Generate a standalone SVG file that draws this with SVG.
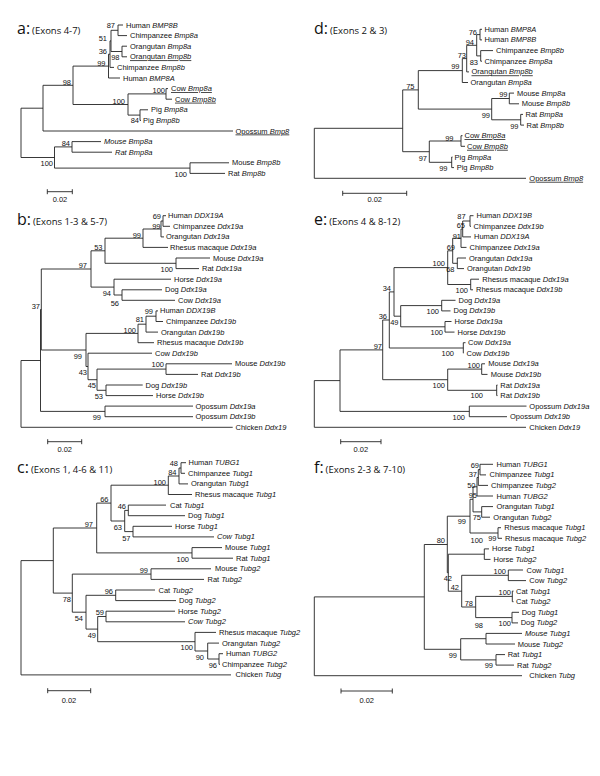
<svg xmlns="http://www.w3.org/2000/svg" width="600" height="776" viewBox="0 0 600 776">
<style>
.br{fill:none;stroke:#222;stroke-width:0.9}
.lf{font-family:"Liberation Sans",Arial,sans-serif;font-size:7.5px;fill:#111}
.lf .i,.i{font-style:italic}
.u{text-decoration:underline}
.bs{font-family:"Liberation Sans",Arial,sans-serif;font-size:7.5px;fill:#111;text-anchor:end}
.sc{font-family:"Liberation Sans",Arial,sans-serif;font-size:7.5px;fill:#111;text-anchor:middle}
.tl{font-family:"Open Sans","Liberation Sans",sans-serif;fill:#111}
.tl .big{font-size:16px}
.tl .sm{font-size:9.5px}
</style>
<rect width="600" height="776" fill="#fff"/>

<!-- ================= PANEL A ================= -->
<g id="panel-a">
<text class="tl" x="17" y="34"><tspan class="big">a:</tspan><tspan class="sm" dx="2">(Exons 4-7)</tspan></text>
<g id="a-connectors"><path class="br" d="M118,25V35.6M118,25H123M118,35.6H127M122,46.2V56.8M122,46.2H127M122,56.8H127M111,30.3V51.5M111,30.3H118M111,51.5H122M110,40.9V67.4M110,40.9H111M110,67.4H114M108.5,54.2V78M108.5,54.2H110M108.5,78H120M166,88.6V99.2M166,88.6H168M166,99.2H172M140,109.8V120.4M140,109.8H148M140,120.4H141M128,93.9V115.1M128,93.9H166M128,115.1H140M73,66.1V104.5M73,66.1H108.5M73,104.5H128M43,85.3V131M43,85.3H73M43,131H233M72,141.6V152.2M72,141.6H101M72,152.2H112M190,162.8V173.4M190,162.8H229M190,173.4H225M54.5,146.9V168.1M54.5,146.9H72M54.5,168.1H190M21,108.2V157.5M21,108.2H43M21,157.5H54.5"/></g>
<g class="lf">
<g id="a-l0"><text x="126" y="27.5">Human <tspan class="i">BMP8B</tspan></text></g>
<g id="a-l1"><text x="130" y="38.1">Chimpanzee <tspan class="i">Bmp8a</tspan></text></g>
<g id="a-l2"><text x="130" y="48.7">Orangutan <tspan class="i">Bmp8a</tspan></text></g>
<g id="a-l3"><text class="u" x="130" y="59.3">Orangutan <tspan class="i">Bmp8b</tspan></text></g>
<g id="a-l4"><text x="117" y="69.9">Chimpanzee <tspan class="i">Bmp8b</tspan></text></g>
<g id="a-l5"><text x="123" y="80.5">Human <tspan class="i">BMP8A</tspan></text></g>
<g id="a-l6"><text class="u" x="171" y="91.1">Cow <tspan class="i">Bmp8a</tspan></text></g>
<g id="a-l7"><text class="u" x="175" y="101.7">Cow <tspan class="i">Bmp8b</tspan></text></g>
<g id="a-l8"><text x="151" y="112.3">Pig <tspan class="i">Bmp8a</tspan></text></g>
<g id="a-l9"><text x="143" y="122.9">Pig <tspan class="i">Bmp8b</tspan></text></g>
<g id="a-l10"><text class="u" x="235.5" y="133.5">Opossum <tspan class="i">Bmp8</tspan></text></g>
<g id="a-l11"><text class="i" x="104" y="144.1">Mouse Bmp8a</text></g>
<g id="a-l12"><text class="i" x="115" y="154.7">Rat Bmp8a</text></g>
<g id="a-l13"><text x="232" y="165.3">Mouse <tspan class="i">Bmp8b</tspan></text></g>
<g id="a-l14"><text x="228" y="175.9">Rat <tspan class="i">Bmp8b</tspan></text></g>
</g>
<g class="bs">
<text x="115" y="27.8">87</text>
<text x="107" y="40.5">51</text>
<text x="107" y="53.5">36</text>
<text x="119.5" y="60">98</text>
<text x="105.5" y="65.5">99</text>
<text x="71" y="85">98</text>
<text x="165" y="93">100</text>
<text x="125" y="103.5">100</text>
<text x="139" y="123">84</text>
<text x="70" y="145.5">84</text>
<text x="53" y="165.5">100</text>
<text x="187" y="177">100</text>
</g>
<g id="a-scale"><path class="br" d="M47.3,191.7H72.3M47.3,189.2V194.2M72.3,189.2V194.2"/><text class="sc" x="60" y="202">0.02</text></g>
</g>

<!-- ================= PANEL B ================= -->
<g id="panel-b">
<text class="tl" x="17" y="224.5"><tspan class="big">b:</tspan><tspan class="sm" dx="2">(Exons 1-3 &amp; 5-7)</tspan></text>
<g id="b-connectors"><path class="br" d="M163,215.7V226.3M163,215.7H166M163,226.3H170M161,221V236.9M161,221H163M161,236.9H164M143,229V247.4M143,229H161M143,247.4H168M176,258V268.6M176,258H210M176,268.6H199M105,238.2V263.3M105,238.2H143M105,263.3H176M122,289.8V300.3M122,289.8H162M122,300.3H175M114,279.2V295M114,279.2H171M114,295H122M91,250.8V287.1M91,250.8H105M91,287.1H114M156,310.9V321.5M156,310.9H158M156,321.5H163M146,316.2V332.1M146,316.2H156M146,332.1H158M138,324.2V342.7M138,324.2H146M138,342.7H154M166,363.8V374.4M166,363.8H232M166,374.4H198M106,385V395.6M106,385H142.7M106,395.6H153M97,369.1V390.3M97,369.1H166M97,390.3H106M88,353.2V379.7M88,353.2H152M88,379.7H97M86,333.4V366.5M86,333.4H138M86,366.5H88M41.3,269V350M41.3,269H91M41.3,350H86M105,406.1V416.7M105,406.1H193M105,416.7H193M40.5,309.5V411.4M40.5,309.5H41.3M40.5,411.4H105M21,360.5V427.3M21,360.5H40.5M21,427.3H232.7"/></g>
<g class="lf">
<g id="b-l0"><text x="168" y="218.2">Human <tspan class="i">DDX19A</tspan></text></g>
<g id="b-l1"><text x="173" y="228.8">Chimpanzee <tspan class="i">Ddx19a</tspan></text></g>
<g id="b-l2"><text x="166" y="239.4">Orangutan <tspan class="i">Ddx19a</tspan></text></g>
<g id="b-l3"><text x="170" y="249.9">Rhesus macaque <tspan class="i">Ddx19a</tspan></text></g>
<g id="b-l4"><text x="213" y="260.5">Mouse <tspan class="i">Ddx19a</tspan></text></g>
<g id="b-l5"><text x="202" y="271.1">Rat <tspan class="i">Ddx19a</tspan></text></g>
<g id="b-l6"><text x="174" y="281.7">Horse <tspan class="i">Ddx19a</tspan></text></g>
<g id="b-l7"><text x="165" y="292.3">Dog <tspan class="i">Ddx19a</tspan></text></g>
<g id="b-l8"><text x="178" y="302.8">Cow <tspan class="i">Ddx19a</tspan></text></g>
<g id="b-l9"><text x="160" y="313.4">Human <tspan class="i">DDX19B</tspan></text></g>
<g id="b-l10"><text x="166" y="324">Chimpanzee <tspan class="i">Ddx19b</tspan></text></g>
<g id="b-l11"><text x="161" y="334.6">Orangutan <tspan class="i">Ddx19b</tspan></text></g>
<g id="b-l12"><text x="157" y="345.2">Rhesus macaque <tspan class="i">Ddx19b</tspan></text></g>
<g id="b-l13"><text x="155" y="355.7">Cow <tspan class="i">Ddx19b</tspan></text></g>
<g id="b-l14"><text x="235" y="366.3">Mouse <tspan class="i">Ddx19b</tspan></text></g>
<g id="b-l15"><text x="201" y="376.9">Rat <tspan class="i">Ddx19b</tspan></text></g>
<g id="b-l16"><text x="145.5" y="387.5">Dog <tspan class="i">Ddx19b</tspan></text></g>
<g id="b-l17"><text x="156" y="398.1">Horse <tspan class="i">Ddx19b</tspan></text></g>
<g id="b-l18"><text x="195.5" y="408.6">Opossum <tspan class="i">Ddx19a</tspan></text></g>
<g id="b-l19"><text x="195.5" y="419.2">Opossum <tspan class="i">Ddx19b</tspan></text></g>
<g id="b-l20"><text x="235.5" y="429.8">Chicken <tspan class="i">Ddx19</tspan></text></g>
</g>
<g class="bs">
<text x="161" y="218.5">69</text>
<text x="160.5" y="229">99</text>
<text x="141" y="237.5">99</text>
<text x="102.5" y="250">53</text>
<text x="173" y="272">100</text>
<text x="87" y="268">97</text>
<text x="111" y="296">94</text>
<text x="119" y="306">56</text>
<text x="40" y="309">37</text>
<text x="153" y="314">99</text>
<text x="144" y="322">81</text>
<text x="136" y="333">100</text>
<text x="164" y="367">100</text>
<text x="82" y="359">99</text>
<text x="87" y="374.5">43</text>
<text x="96" y="388">45</text>
<text x="103" y="399">53</text>
<text x="101" y="419.5">99</text>
</g>
<g id="b-scale"><path class="br" d="M47.7,441.7H81.7M47.7,439.2V444.2M81.7,439.2V444.2"/><text class="sc" x="64.7" y="452">0.02</text></g>
</g>

<!-- ================= PANEL C ================= -->
<g id="panel-c">
<text class="tl" x="17" y="472.5"><tspan class="big">c:</tspan><tspan class="sm" dx="2">(Exons 1, 4-6 &amp; 11)</tspan></text>
<g id="c-connectors"><path class="br" d="M181,462.7V473.3M181,462.7H186M181,473.3H185M179,468V483.9M179,468H181M179,483.9H188M168.3,476V494.5M168.3,476H179M168.3,494.5H192M128.3,505.1V515.7M128.3,505.1H166M128.3,515.7H185M133,526.3V536.9M133,526.3H172M133,536.9H214M124.7,510.4V531.6M124.7,510.4H128.3M124.7,531.6H133M111,485.2V521M111,485.2H168.3M111,521H124.7M192,547.6V558.2M192,547.6H222M192,558.2H233M96.7,503.1V552.9M96.7,503.1H111M96.7,552.9H192M151,568.8V579.4M151,568.8H211M151,579.4H204M115.7,590V600.6M115.7,590H155M115.7,600.6H176M106,611.2V621.8M106,611.2H175M106,621.8H185M219,653.7V664.3M219,653.7H223M219,664.3H220M207.7,643.1V659M207.7,643.1H219M207.7,659H219M195,632.4V651M195,632.4H216M195,651H207.7M97.7,616.5V641.7M97.7,616.5H106M97.7,641.7H195M86,595.3V629.1M86,595.3H115.7M86,629.1H97.7M72.3,574.1V612.2M72.3,574.1H151M72.3,612.2H86M53.3,528V593.1M53.3,528H96.7M53.3,593.1H72.3M21,560.6V674.9M21,560.6H53.3M21,674.9H231"/></g>
<g class="lf">
<g id="c-l0"><text x="188.5" y="465.2">Human <tspan class="i">TUBG1</tspan></text></g>
<g id="c-l1"><text x="188" y="475.8">Chimpanzee <tspan class="i">Tubg1</tspan></text></g>
<g id="c-l2"><text x="191" y="486.4">Orangutan <tspan class="i">Tubg1</tspan></text></g>
<g id="c-l3"><text x="195" y="497">Rhesus macaque <tspan class="i">Tubg1</tspan></text></g>
<g id="c-l4"><text x="170" y="507.6">Cat <tspan class="i">Tubg1</tspan></text></g>
<g id="c-l5"><text x="188" y="518.2">Dog <tspan class="i">Tubg1</tspan></text></g>
<g id="c-l6"><text x="175" y="528.8">Horse <tspan class="i">Tubg1</tspan></text></g>
<g id="c-l7"><text class="i" x="217" y="539.4">Cow Tubg1</text></g>
<g id="c-l8"><text x="225" y="550.1">Mouse <tspan class="i">Tubg1</tspan></text></g>
<g id="c-l9"><text x="236" y="560.7">Rat <tspan class="i">Tubg1</tspan></text></g>
<g id="c-l10"><text x="215" y="571.3">Mouse <tspan class="i">Tubg2</tspan></text></g>
<g id="c-l11"><text x="207.5" y="581.9">Rat <tspan class="i">Tubg2</tspan></text></g>
<g id="c-l12"><text x="158.5" y="592.5">Cat <tspan class="i">Tubg2</tspan></text></g>
<g id="c-l13"><text x="179" y="603.1">Dog <tspan class="i">Tubg2</tspan></text></g>
<g id="c-l14"><text x="178" y="613.7">Horse <tspan class="i">Tubg2</tspan></text></g>
<g id="c-l15"><text class="i" x="188" y="624.3">Cow Tubg2</text></g>
<g id="c-l16"><text x="219" y="634.9">Rhesus macaque <tspan class="i">Tubg2</tspan></text></g>
<g id="c-l17"><text x="222" y="645.6">Orangutan <tspan class="i">Tubg2</tspan></text></g>
<g id="c-l18"><text x="226" y="656.2">Human <tspan class="i">TUBG2</tspan></text></g>
<g id="c-l19"><text x="222" y="666.8">Chimpanzee <tspan class="i">Tubg2</tspan></text></g>
<g id="c-l20"><text x="235.5" y="677.4">Chicken <tspan class="i">Tubg</tspan></text></g>
</g>
<g class="bs">
<text x="178" y="465.5">48</text>
<text x="176.5" y="475">84</text>
<text x="166" y="484.5">100</text>
<text x="108.5" y="502">66</text>
<text x="126" y="509">46</text>
<text x="122" y="529.5">63</text>
<text x="130.5" y="541">57</text>
<text x="93" y="527">97</text>
<text x="189" y="562">100</text>
<text x="148" y="573">99</text>
<text x="71" y="602">78</text>
<text x="113" y="594">96</text>
<text x="83" y="621">54</text>
<text x="104" y="615">59</text>
<text x="96" y="638">49</text>
<text x="193" y="650">100</text>
<text x="204" y="659.5">90</text>
<text x="217" y="668">96</text>
</g>
<g id="c-scale"><path class="br" d="M47.7,690.7H90.7M47.7,688.2V693.2M90.7,688.2V693.2"/><text class="sc" x="69" y="703">0.02</text></g>
</g>

<!-- ================= PANEL D ================= -->
<g id="panel-d">
<text class="tl" x="314" y="34"><tspan class="big">d:</tspan><tspan class="sm" dx="2">(Exons 2 &amp; 3)</tspan></text>
<g id="d-connectors"><path class="br" d="M480,29.3V39.9M480,29.3H482M480,39.9H482M480.7,50.6V61.2M480.7,50.6H493M480.7,61.2H482M476.7,34.6V55.9M476.7,34.6H480M476.7,55.9H480.7M466.7,45.3V71.9M466.7,45.3H476.7M466.7,71.9H469M462.3,58.6V82.5M462.3,58.6H466.7M462.3,82.5H468M509.3,93.1V103.8M509.3,93.1H514M509.3,103.8H519M520.7,114.4V125.1M520.7,114.4H523M520.7,125.1H524M491.7,98.5V119.8M491.7,98.5H509.3M491.7,119.8H520.7M418.3,70.6V109.1M418.3,70.6H462.3M418.3,109.1H491.7M461,135.7V146.3M461,135.7H462.5M461,146.3H465M451.7,157V167.6M451.7,157H452.5M451.7,167.6H454M429.3,141V162.3M429.3,141H461M429.3,162.3H451.7M402.7,89.9V151.7M402.7,89.9H418.3M402.7,151.7H429.3M314.3,128.3V178.3M314.3,128.3H402.7M314.3,178.3H526"/></g>
<g class="lf">
<g id="d-l0"><text x="484.5" y="31.8">Human <tspan class="i">BMP8A</tspan></text></g>
<g id="d-l1"><text x="484.5" y="42.4">Human <tspan class="i">BMP8B</tspan></text></g>
<g id="d-l2"><text x="496" y="53.1">Chimpanzee <tspan class="i">Bmp8b</tspan></text></g>
<g id="d-l3"><text x="484.5" y="63.7">Chimpanzee <tspan class="i">Bmp8a</tspan></text></g>
<g id="d-l4"><text class="u" x="471.5" y="74.4">Orangutan <tspan class="i">Bmp8b</tspan></text></g>
<g id="d-l5"><text x="470.5" y="85">Orangutan <tspan class="i">Bmp8a</tspan></text></g>
<g id="d-l6"><text x="517" y="95.6">Mouse <tspan class="i">Bmp8a</tspan></text></g>
<g id="d-l7"><text x="521.7" y="106.3">Mouse <tspan class="i">Bmp8b</tspan></text></g>
<g id="d-l8"><text x="525.5" y="116.9">Rat <tspan class="i">Bmp8a</tspan></text></g>
<g id="d-l9"><text x="526.5" y="127.6">Rat <tspan class="i">Bmp8b</tspan></text></g>
<g id="d-l10"><text class="u" x="464.5" y="138.2">Cow <tspan class="i">Bmp8a</tspan></text></g>
<g id="d-l11"><text class="u" x="467" y="148.8">Cow <tspan class="i">Bmp8b</tspan></text></g>
<g id="d-l12"><text x="454.5" y="159.5">Pig <tspan class="i">Bmp8a</tspan></text></g>
<g id="d-l13"><text x="456.7" y="170.1">Pig <tspan class="i">Bmp8b</tspan></text></g>
<g id="d-l14"><text class="u" x="529.3" y="180.8">Opossum <tspan class="i">Bmp8</tspan></text></g>
</g>
<g class="bs">
<text x="477" y="34.5">76</text>
<text x="474" y="44.5">94</text>
<text x="466" y="57.5">73</text>
<text x="478" y="64.5">83</text>
<text x="459.5" y="69">99</text>
<text x="414.5" y="89">75</text>
<text x="507.5" y="97">99</text>
<text x="490" y="118">99</text>
<text x="518.5" y="128.5">99</text>
<text x="453.5" y="140.5">99</text>
<text x="427" y="160.5">97</text>
<text x="447.5" y="171">99</text>
</g>
<g id="d-scale"><path class="br" d="M342.7,193.3H406.7M342.7,190.8V195.8M406.7,190.8V195.8"/><text class="sc" x="374.7" y="202">0.02</text></g>
</g>

<!-- ================= PANEL E ================= -->
<g id="panel-e">
<text class="tl" x="314" y="224.5"><tspan class="big">e:</tspan><tspan class="sm" dx="2">(Exons 4 &amp; 8-12)</tspan></text>
<g id="e-connectors"><path class="br" d="M470,215.7V226.3M470,215.7H473.5M470,226.3H471M462.7,221V236.9M462.7,221H470M462.7,236.9H471M461,229V247.4M461,229H462.7M461,247.4H466.5M457.3,258V268.6M457.3,258H466M457.3,268.6H464M452.7,238.2V263.3M452.7,238.2H461M452.7,263.3H457.3M470.7,279.2V289.8M470.7,279.2H479M470.7,289.8H473M447.7,250.8V284.5M447.7,250.8H452.7M447.7,284.5H470.7M441.7,300.3V310.9M441.7,300.3H455.5M441.7,310.9H450.5M445,321.5V332.1M445,321.5H451.5M445,332.1H454.5M400.7,305.6V326.8M400.7,305.6H441.7M400.7,326.8H445M394,267.6V316.2M394,267.6H447.7M394,316.2H400.7M463.3,342.7V353.2M463.3,342.7H465.5M463.3,353.2H463.5M389.3,291.9V348M389.3,291.9H394M389.3,348H463.3M481.7,363.8V374.4M481.7,363.8H485M481.7,374.4H487.5M496.7,385V395.6M496.7,385H497.5M496.7,395.6H497.5M447.7,369.1V390.3M447.7,369.1H481.7M447.7,390.3H496.7M382.7,320V379.7M382.7,320H389.3M382.7,379.7H447.7M469.3,406.1V416.7M469.3,406.1H526.5M469.3,416.7H507M340,349.9V411.4M340,349.9H382.7M340,411.4H469.3M314.3,380.6V427.3M314.3,380.6H340M314.3,427.3H526"/></g>
<g class="lf">
<g id="e-l0"><text x="476.5" y="218.2">Human <tspan class="i">DDX19B</tspan></text></g>
<g id="e-l1"><text x="473.5" y="228.8">Chimpanzee <tspan class="i">Ddx19b</tspan></text></g>
<g id="e-l2"><text x="474" y="239.4">Human <tspan class="i">DDX19A</tspan></text></g>
<g id="e-l3"><text x="469.5" y="249.9">Chimpanzee <tspan class="i">Ddx19a</tspan></text></g>
<g id="e-l4"><text x="469" y="260.5">Orangutan <tspan class="i">Ddx19a</tspan></text></g>
<g id="e-l5"><text x="467" y="271.1">Orangutan <tspan class="i">Ddx19b</tspan></text></g>
<g id="e-l6"><text x="482.3" y="281.7">Rhesus macaque <tspan class="i">Ddx19a</tspan></text></g>
<g id="e-l7"><text x="476" y="292.3">Rhesus macaque <tspan class="i">Ddx19b</tspan></text></g>
<g id="e-l8"><text x="458.5" y="302.8">Dog <tspan class="i">Ddx19a</tspan></text></g>
<g id="e-l9"><text x="453.5" y="313.4">Dog <tspan class="i">Ddx19b</tspan></text></g>
<g id="e-l10"><text x="454.5" y="324">Horse <tspan class="i">Ddx19a</tspan></text></g>
<g id="e-l11"><text x="457.5" y="334.6">Horse <tspan class="i">Ddx19b</tspan></text></g>
<g id="e-l12"><text x="468" y="345.2">Cow <tspan class="i">Ddx19a</tspan></text></g>
<g id="e-l13"><text x="466.5" y="355.7">Cow <tspan class="i">Ddx19b</tspan></text></g>
<g id="e-l14"><text x="488.3" y="366.3">Mouse <tspan class="i">Ddx19a</tspan></text></g>
<g id="e-l15"><text x="490.7" y="376.9">Mouse <tspan class="i">Ddx19b</tspan></text></g>
<g id="e-l16"><text x="500.3" y="387.5">Rat <tspan class="i">Ddx19a</tspan></text></g>
<g id="e-l17"><text x="500.3" y="398.1">Rat <tspan class="i">Ddx19b</tspan></text></g>
<g id="e-l18"><text x="529.3" y="408.6">Opossum <tspan class="i">Ddx19a</tspan></text></g>
<g id="e-l19"><text x="510" y="419.2">Opossum <tspan class="i">Ddx19b</tspan></text></g>
<g id="e-l20"><text x="529.3" y="429.8">Chicken <tspan class="i">Ddx19</tspan></text></g>
</g>
<g class="bs">
<text x="465.7" y="218.5">87</text>
<text x="465" y="228">65</text>
<text x="461" y="239">91</text>
<text x="455" y="250">69</text>
<text x="445" y="266">100</text>
<text x="454.5" y="272">68</text>
<text x="468" y="293">100</text>
<text x="391" y="291">34</text>
<text x="439" y="313.5">100</text>
<text x="398.5" y="324.5">49</text>
<text x="387" y="319">36</text>
<text x="443" y="334.5">100</text>
<text x="382" y="348.5">97</text>
<text x="454" y="356">100</text>
<text x="480" y="368">100</text>
<text x="445" y="388">100</text>
<text x="483" y="398">100</text>
<text x="465" y="419.5">100</text>
</g>
<g id="e-scale"><path class="br" d="M340.7,441.7H381M340.7,439.2V444.2M381,439.2V444.2"/><text class="sc" x="360.8" y="452">0.02</text></g>
</g>

<!-- ================= PANEL F ================= -->
<g id="panel-f">
<text class="tl" x="314" y="472.5"><tspan class="big">f:</tspan><tspan class="sm" dx="2">(Exons 2-3 &amp; 7-10)</tspan></text>
<g id="f-connectors"><path class="br" d="M480,464.3V474.9M480,464.3H493M480,474.9H486M478.3,469.6V485.4M478.3,469.6H480M478.3,485.4H488M477,477.5V496M477,477.5H478.3M477,496H493M481.7,506.6V517.2M481.7,506.6H493M481.7,517.2H490M473,486.8V511.9M473,486.8H477M473,511.9H481.7M498,527.7V538.3M498,527.7H501M498,538.3H502M470,499.3V533M470,499.3H473M470,533H498M484.3,548.9V559.4M484.3,548.9H489M484.3,559.4H490.5M508.3,570V580.6M508.3,570H523M508.3,580.6H526M512.3,591.1V601.7M512.3,591.1H513.5M512.3,601.7H513.5M512,612.3V622.9M512,612.3H519M512,622.9H518M475.7,596.4V617.6M475.7,596.4H512.3M475.7,617.6H512M461.7,575.3V607M461.7,575.3H508.3M461.7,607H475.7M448.3,554.2V591.2M448.3,554.2H484.3M448.3,591.2H461.7M447.3,516.2V572.7M447.3,516.2H470M447.3,572.7H448.3M486,633.4V644M486,633.4H522M486,644H515M496,654.6V665.1M496,654.6H505M496,665.1H514M460.7,638.7V659.9M460.7,638.7H486M460.7,659.9H496M424.3,544.5V649.3M424.3,544.5H447.3M424.3,649.3H460.7M314.3,596.9V675.7M314.3,596.9H424.3M314.3,675.7H522"/></g>
<g class="lf">
<g id="f-l0"><text x="496.5" y="466.8">Human <tspan class="i">TUBG1</tspan></text></g>
<g id="f-l1"><text x="489.5" y="477.4">Chimpanzee <tspan class="i">Tubg1</tspan></text></g>
<g id="f-l2"><text x="491" y="487.9">Chimpanzee <tspan class="i">Tubg2</tspan></text></g>
<g id="f-l3"><text x="496.5" y="498.5">Human <tspan class="i">TUBG2</tspan></text></g>
<g id="f-l4"><text x="496.5" y="509.1">Orangutan <tspan class="i">Tubg1</tspan></text></g>
<g id="f-l5"><text x="493.3" y="519.7">Orangutan <tspan class="i">Tubg2</tspan></text></g>
<g id="f-l6"><text x="504.3" y="530.2">Rhesus macaque <tspan class="i">Tubg1</tspan></text></g>
<g id="f-l7"><text x="505" y="540.8">Rhesus macaque <tspan class="i">Tubg2</tspan></text></g>
<g id="f-l8"><text x="492" y="551.4">Horse <tspan class="i">Tubg1</tspan></text></g>
<g id="f-l9"><text x="493.5" y="561.9">Horse <tspan class="i">Tubg2</tspan></text></g>
<g id="f-l10"><text x="526.5" y="572.5">Cow <tspan class="i">Tubg1</tspan></text></g>
<g id="f-l11"><text x="529.3" y="583.1">Cow <tspan class="i">Tubg2</tspan></text></g>
<g id="f-l12"><text x="516" y="593.6">Cat <tspan class="i">Tubg1</tspan></text></g>
<g id="f-l13"><text x="516" y="604.2">Cat <tspan class="i">Tubg2</tspan></text></g>
<g id="f-l14"><text x="521.7" y="614.8">Dog <tspan class="i">Tubg1</tspan></text></g>
<g id="f-l15"><text x="520.7" y="625.4">Dog <tspan class="i">Tubg2</tspan></text></g>
<g id="f-l16"><text class="i" x="525" y="635.9">Mouse Tubg1</text></g>
<g id="f-l17"><text x="517.7" y="646.5">Mouse <tspan class="i">Tubg2</tspan></text></g>
<g id="f-l18"><text x="507.7" y="657.1">Rat <tspan class="i">Tubg1</tspan></text></g>
<g id="f-l19"><text x="517" y="667.6">Rat <tspan class="i">Tubg2</tspan></text></g>
<g id="f-l20"><text x="529.3" y="678.2">Chicken <tspan class="i">Tubg</tspan></text></g>
</g>
<g class="bs">
<text x="479" y="467.5">69</text>
<text x="477" y="477">37</text>
<text x="475.5" y="487.5">50</text>
<text x="477" y="498">95</text>
<text x="481" y="519.5">75</text>
<text x="466" y="523.5">99</text>
<text x="496.5" y="541">99</text>
<text x="445" y="543">80</text>
<text x="483" y="543">100</text>
<text x="452" y="581">42</text>
<text x="506" y="574">100</text>
<text x="459" y="589.5">42</text>
<text x="511" y="594.5">100</text>
<text x="473" y="606">78</text>
<text x="511" y="626">100</text>
<text x="483" y="628">98</text>
<text x="457" y="658">99</text>
<text x="493" y="668">99</text>
</g>
<g id="f-scale"><path class="br" d="M341,691H392.3M341,688.5V693.5M392.3,688.5V693.5"/><text class="sc" x="366.7" y="703">0.02</text></g>
</g>
</svg>
